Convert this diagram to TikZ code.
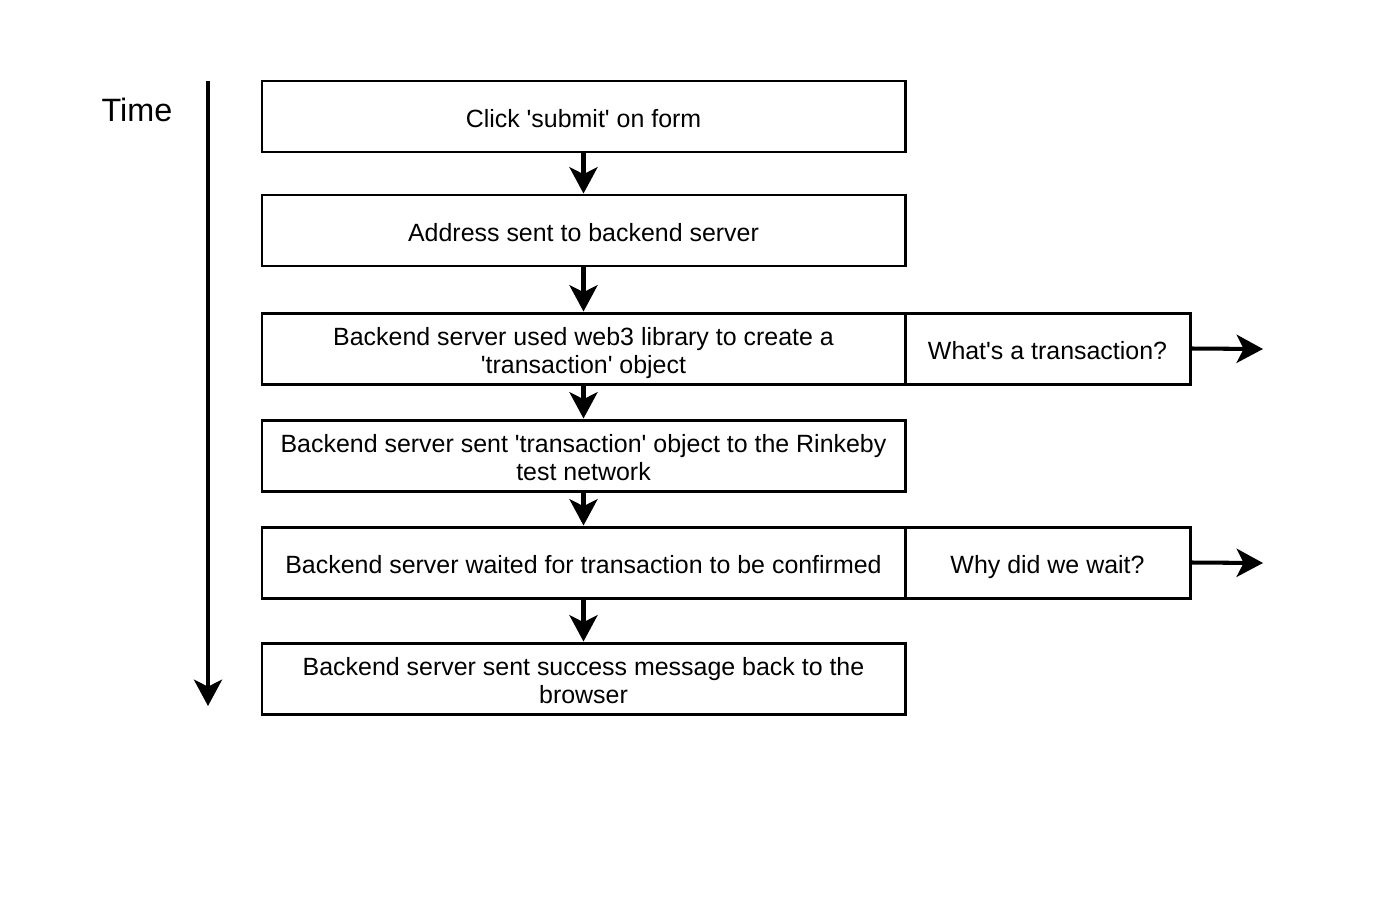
\documentclass[tikz,border=0pt]{standalone}
\usepackage{fontspec}
\setmainfont{Liberation Sans}[Ligatures=TeXOff]
\usetikzlibrary{arrows.meta}
\begin{document}
\begin{tikzpicture}[x=0.02cm,y=-0.02cm,
  stepbox/.style={draw=black,line width=1.7pt,minimum height=71*0.02cm,inner sep=0pt},
  lbl/.style={label={[align=center,font=\fontsize{14.2}{16.0}\selectfont,text depth=0pt,yshift=-1.3pt]center:{#1}}},
  mainbox/.style={stepbox,minimum width=643*0.02cm,lbl={#1}},
  sidebox/.style={stepbox,minimum width=285*0.02cm,lbl={#1}},
  flow/.style={line width=2.3pt,-{Stealth[length=15pt,width=16pt,inset=4pt]}}]
\useasboundingbox (0,0) rectangle (1400,910);
\node[mainbox={Click 'submit' on form}] (b1) at (583.5,116.5) {};
\node[mainbox={Address sent to backend server}] (b2) at (583.5,230.5) {};
\node[mainbox={Backend server used web3 library to create a\\'transaction' object}] (b3) at (583.5,348.5) {};
\node[sidebox={What's a transaction?}] (s3) at (1047.5,348.5) {};
\node[mainbox={Backend server sent 'transaction' object to the Rinkeby\\test network}] (b4) at (583.5,455.5) {};
\node[mainbox={Backend server waited for transaction to be confirmed}] (b5) at (583.5,562.5) {};
\node[sidebox={Why did we wait?}] (s5) at (1047.5,562.5) {};
\node[mainbox={Backend server sent success message back to the\\browser}] (b6) at (583.5,678.5) {};
\node[font=\fontsize{18.4}{21}\selectfont] (time) at (137,110) {Time};
\coordinate (t0) at (208,81);
\coordinate (t1) at (208,706);
\coordinate (e3) at (1263,349);
\coordinate (e5) at (1263,563);
\draw[flow] (t0) -- (t1);
\draw[flow] (b1) -- (b2);
\draw[flow] (b2) -- (b3);
\draw[flow] (b3) -- (b4);
\draw[flow] (b4) -- (b5);
\draw[flow] (b5) -- (b6);
\draw[flow] (s3.east) -- (e3);
\draw[flow] (s5.east) -- (e5);
\end{tikzpicture}
\end{document}
